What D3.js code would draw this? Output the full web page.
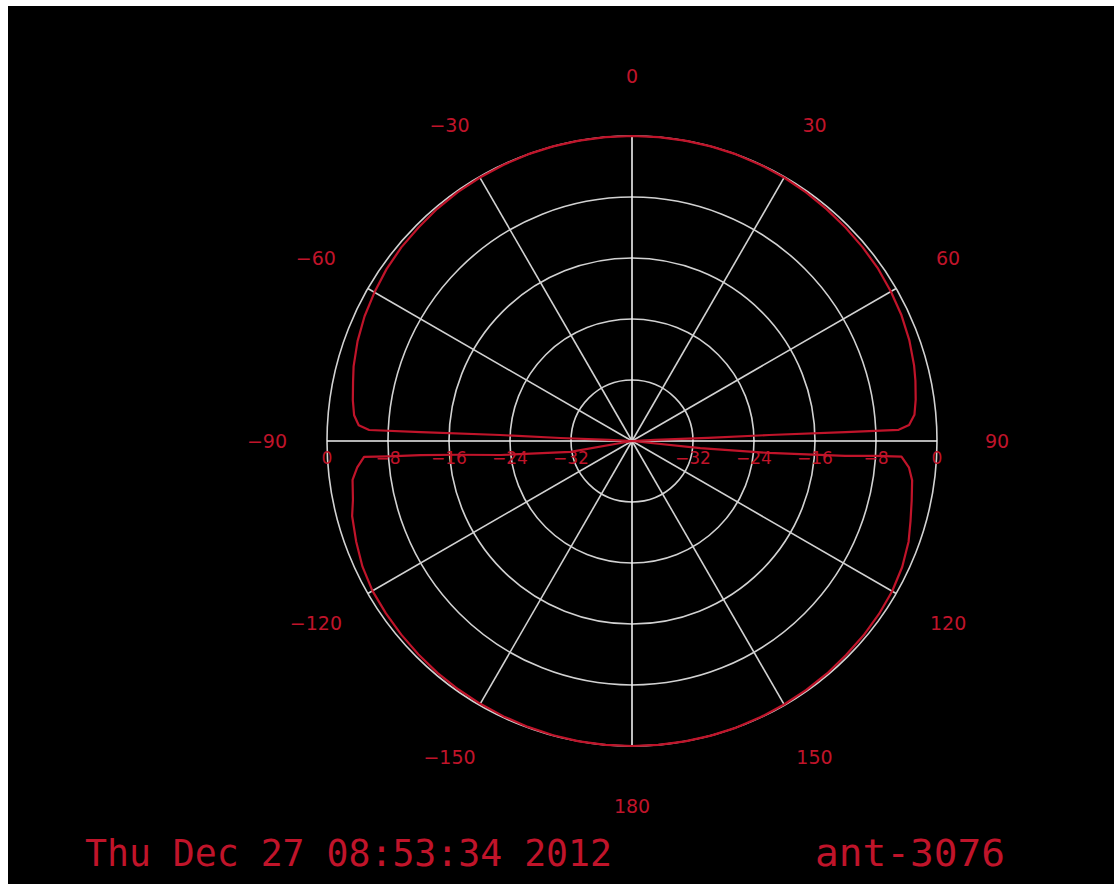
<!DOCTYPE html>
<html>
<head>
<meta charset="utf-8">
<script src="https://cdn.jsdelivr.net/npm/d3@7"></script>
<style>
  html, body { margin: 0; padding: 0; background: #ffffff; }
  svg { display: block; }
</style>
</head>
<body>
<svg id="chart" width="1114" height="884"></svg>
<script>
// ---- data ----
const ringValues = [0, -8, -16, -24, -32];          // dB rings
const ringLabels = ["0", "\u22128", "\u221216", "\u221224", "\u221232"];
const spokeAngles = [0, 30, 60, 90, 120, 150, 180, 210, 240, 270, 300, 330];
const angleTicks = [0, 30, 60, 90, 120, 150, 180, -150, -120, -90, -60, -30];
const angleTickLabels = ["0", "30", "60", "90", "120", "150", "180", "\u2212150", "\u2212120", "\u221290", "\u221260", "\u221230"];
// antenna pattern: angle (deg, clockwise from top) and gain (dB)
const patternAngles = [
  -180, -175, -170, -165, -160, -155, -150, -145, -140, -135, -130, -125, -120, -115, -110, -105,
  -101.9, -97.9, -95.5, -93.4, -93.6, -93.8, -94.5, -96.1, -100, -90,
  -87.4, -87.6, -87.4, -87.6, -87.6, -86.7, -84.7, -81.7, -78, -75, -70, -65, -60, -55, -50, -45,
  -40, -35, -30, -25, -20, -15, -10, -5, 0,
  5, 10, 15, 20, 25, 30, 35, 40, 45, 50, 55, 60, 65, 70, 75, 78, 81.7, 84.7, 86.7,
  87.6, 87.6, 87.5, 87.6, 87.4, 90,
  96, 95, 94, 93.5, 93.3, 95.5, 98, 102, 106, 110, 115, 120, 125, 130, 135, 140, 145, 150,
  155, 160, 165, 170, 175, 180
];
const patternDb = [
  0, 0, 0, -0.05, -0.1, -0.15, -0.2, -0.25, -0.3, -0.4, -0.5, -0.6, -0.7, -1.0, -1.5, -2.0,
  -2.6, -3.0, -3.8, -4.8, -8, -12.2, -17, -22.7, -31.8, -40,
  -37, -30.6, -22.7, -12.3, -5.5, -4.1, -3.4, -3.0, -2.6, -2.2, -1.7, -1.3, -1.0, -0.7, -0.5, -0.4,
  -0.25, -0.15, -0.1, -0.05, 0, 0, 0, 0, 0,
  0, 0, 0, 0, -0.05, -0.1, -0.2, -0.3, -0.4, -0.5, -0.6, -0.8, -1.0, -1.3, -1.7, -2.0, -2.4, -2.8, -3.6,
  -5.0, -12, -22, -30, -37, -40,
  -31, -22, -12, -8, -4.6, -3.5, -2.9, -2.5, -2.0, -1.4, -0.9, -0.6, -0.45, -0.35, -0.3, -0.2, -0.15, -0.1,
  -0.05, 0, 0, 0, 0, 0
];
const dateText = "Thu Dec 27 08:53:34 2012";
const antText = "ant-3076";

// ---- layout ----
const svg = d3.select("#chart");
const W = 1114, H = 884;
svg.append("rect").attr("x", 0).attr("y", 0).attr("width", W).attr("height", H).attr("fill", "#ffffff");
svg.append("rect").attr("x", 8).attr("y", 6).attr("width", W - 8).attr("height", H - 6).attr("fill", "#000000");

const cx = 632, cy = 441, R = 305;
const red = "#c0142a";
const grid = "#d2d2d2";

const r = d3.scaleLinear().domain([-40, 0]).range([0, R]).clamp(true);
const rad = d => d * Math.PI / 180;

const g = svg.append("g").attr("transform", `translate(${cx},${cy})`);

// rings
g.selectAll("circle.ring").data(ringValues).join("circle")
  .attr("class", "ring")
  .attr("r", d => r(d))
  .attr("fill", "none")
  .attr("stroke", grid)
  .attr("stroke-width", 1.6);

// spokes
g.selectAll("line.spoke").data(spokeAngles).join("line")
  .attr("class", "spoke")
  .attr("x1", 0).attr("y1", 0)
  .attr("x2", d => R * Math.sin(rad(d)))
  .attr("y2", d => -R * Math.cos(rad(d)))
  .attr("stroke", d => (d % 90 === 0) ? "#f0f0f0" : grid)
  .attr("stroke-width", 1.6);

// pattern
const pts = patternAngles.map((a, i) => [rad(a), r(patternDb[i])]);
const line = d3.lineRadial().angle(d => d[0]).radius(d => d[1]).curve(d3.curveLinear);
g.append("path")
  .attr("d", line(pts))
  .attr("fill", "none")
  .attr("stroke", red)
  .attr("stroke-width", 2.2)
  .attr("stroke-linejoin", "round");

// angle labels
const labelR = 365;
g.selectAll("text.ang").data(angleTicks).join("text")
  .attr("class", "ang")
  .attr("x", d => labelR * Math.sin(rad(d)))
  .attr("y", d => -labelR * Math.cos(rad(d)))
  .attr("dy", "0.35em")
  .attr("text-anchor", "middle")
  .attr("fill", red)
  .attr("font-family", "DejaVu Sans, sans-serif")
  .attr("font-size", 19)
  .text((d, i) => angleTickLabels[i]);

// radial labels (both sides)
const radialData = [];
ringValues.forEach((v, i) => {
  radialData.push({ x: -r(v), t: ringLabels[i] });
  radialData.push({ x: r(v), t: ringLabels[i] });
});
g.selectAll("text.rad").data(radialData).join("text")
  .attr("class", "rad")
  .attr("x", d => d.x)
  .attr("y", 17)
  .attr("dy", "0.35em")
  .attr("text-anchor", "middle")
  .attr("fill", red)
  .attr("font-family", "DejaVu Sans, sans-serif")
  .attr("font-size", 17)
  .text(d => d.t);

// bottom texts
svg.append("text")
  .attr("x", 85).attr("y", 866)
  .attr("fill", red)
  .attr("font-family", "DejaVu Sans Mono, monospace")
  .attr("font-size", 38)
  .attr("textLength", 527)
  .attr("lengthAdjust", "spacingAndGlyphs")
  .text(dateText);

svg.append("text")
  .attr("x", 815).attr("y", 866)
  .attr("fill", red)
  .attr("font-family", "DejaVu Sans Mono, monospace")
  .attr("font-size", 38)
  .attr("textLength", 190)
  .attr("lengthAdjust", "spacingAndGlyphs")
  .text(antText);
</script>
</body>
</html>
